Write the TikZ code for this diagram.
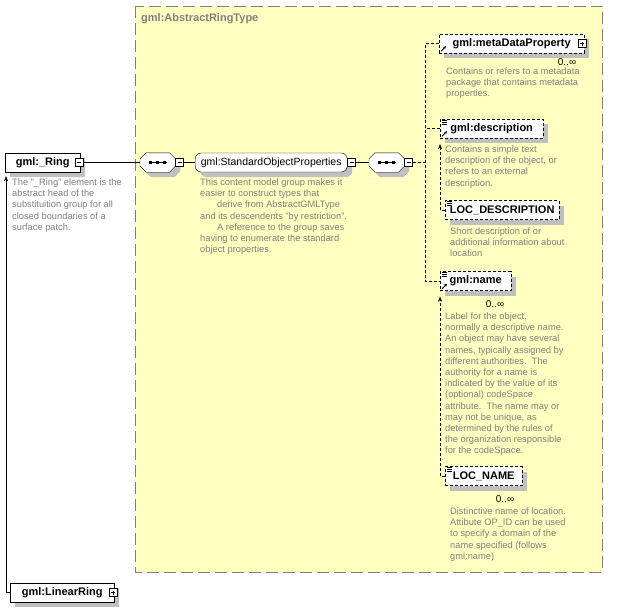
\documentclass[tikz,border=0pt]{standalone}
\usepackage{fontspec}
\setmainfont{Liberation Sans}
\usetikzlibrary{shadows,arrows.meta}
\definecolor{bgyellow}{HTML}{FFFFC0}
\definecolor{docgray}{HTML}{808080}
\definecolor{shadowgray}{HTML}{C0C0C0}
\begin{document}
\begin{tikzpicture}[x=1pt,y=-1pt,>={Stealth[length=5pt,width=4pt]},
    shade/.style={drop shadow={shadow xshift=5pt,shadow yshift=-5pt,fill=shadowgray,opacity=1}},
    dotted line/.style={dash pattern=on 3pt off 2pt},
    elem/.style={draw,fill=white,shade,anchor=west,minimum height=19pt,inner sep=0pt,font=\fontsize{11}{12}\selectfont\bfseries},
    optelem/.style={elem,dotted line},
    seq/.style={anchor=west,minimum width=35pt,minimum height=19pt,inner sep=0pt},
    pmbox/.style={draw,solid,fill=white,minimum size=8pt,inner sep=0pt,
      path picture={\draw ([xshift=2pt]path picture bounding box.west) -- ([xshift=-2pt]path picture bounding box.east);}},
    plusbox/.style={draw,solid,fill=white,minimum size=8pt,inner sep=0pt,
      path picture={\draw ([xshift=2pt]path picture bounding box.west) -- ([xshift=-2pt]path picture bounding box.east);
        \draw ([yshift=2pt]path picture bounding box.south) -- ([yshift=-2pt]path picture bounding box.north);}},
    doc/.style={text=docgray,font=\fontsize{9.3}{11.2}\selectfont,align=left,anchor=north west,inner sep=0pt},
    mult/.style={font=\fontsize{10}{12}\selectfont,inner sep=0pt}]
  \useasboundingbox (0,0) rectangle (620,614);
  \fill[bgyellow] (135,6) rectangle (602,572);
  \draw[docgray,dash pattern=on 12pt off 5pt] (135,6) rectangle (602,572);
  \node[font=\fontsize{11}{12}\selectfont\bfseries,text=docgray,anchor=west,inner sep=0pt] (title) at (141,19) {gml:AbstractRingType};

  \node[elem,minimum width=75pt] (ring) at (5,162.5) {gml:\_Ring};
  \node[pmbox] (ringpm) at ([xshift=-1pt]ring.east) {};
  \node[doc] (ringdoc) at (12,178.5) {The "\_Ring" element is the\\abstract head of the\\substituition group for all\\closed boundaries of a\\surface patch.};

  \node[seq] (seq1) at (140,162.5) {};
  \node[seq] (seq2) at (369,162.5) {};
  \foreach \s in {seq1,seq2} {
    \draw[fill=white,shade] ([xshift=6pt]\s.north west) -- ([xshift=-6pt]\s.north east) -- ([yshift=-6pt]\s.north east)
      -- ([yshift=6pt]\s.south east) -- ([xshift=-6pt]\s.south east) -- ([xshift=6pt]\s.south west)
      -- ([yshift=6pt]\s.south west) -- ([yshift=-6pt]\s.north west) -- cycle;
    \draw[line width=1.2pt] ([xshift=-9pt]\s.center) -- ([xshift=9pt]\s.center);
    \foreach \d in {-7,0,7}
      \fill ([xshift=\d pt]\s.center) +(-1.7pt,-1.7pt) rectangle +(1.7pt,1.7pt);
  }
  \node[pmbox,anchor=west] (seq1pm) at (seq1.east) {};
  \node[draw,fill=white,shade,rounded corners=6pt,anchor=west,minimum width=152pt,minimum height=19pt,inner sep=0pt,
    font=\fontsize{10.5}{12}\selectfont] (sop) at (195,162.5) {gml:StandardObjectProperties};
  \node[pmbox,anchor=west] (soppm) at (sop.east) {};
  \node[doc] (sopdoc) at (200,178.5) {This content model group makes it\\easier to construct types that\\\hspace*{17pt}derive from AbstractGMLType\\and its descendents "by restriction".\\\hspace*{17pt}A reference to the group saves\\having to enumerate the standard\\object properties.};
  \node[pmbox,anchor=west] (seq2pm) at (seq2.east) {};
  \coordinate (choice) at (425,162.5);

  \node[optelem,minimum width=145pt] (meta) at (439,43.5) {gml:metaDataProperty};
  \node[plusbox] (metapm) at ([xshift=-2pt]meta.east) {};
  \node[mult] (metamult) at (567,62) {0..∞};
  \node[doc] (metadoc) at (446,67.5) {Contains or refers to a metadata\\package that contains metadata\\properties.};

  \node[optelem,minimum width=103pt] (descr) at (440,128.5) {gml:description};
  \node[doc] (descrdoc) at (445,145.5) {Contains a simple text\\description of the object, or\\refers to an external\\description.};
  \node[optelem,minimum width=114pt] (locdesc) at (445,210) {LOC\_DESCRIPTION};
  \node[doc] (locdescdoc) at (450,227.5) {Short description of or\\additional information about\\location};

  \node[optelem,minimum width=71pt] (name) at (440,281) {gml:name};
  \node[mult] (namemult) at (495,304) {0..∞};
  \node[doc] (namedoc) at (445,312.5) {Label for the object,\\normally a descriptive name.\\An object may have several\\names, typically assigned by\\different authorities.\ \ The\\authority for a name is\\indicated by the value of its\\(optional) codeSpace\\attribute.\ \ The name may or\\may not be unique, as\\determined by the rules of\\the organization responsible\\for the codeSpace.};
  \node[optelem,minimum width=77pt] (locname) at (445,476) {LOC\_NAME};
  \node[mult] (locnamemult) at (505,499) {0..∞};
  \node[doc] (locnamedoc) at (450,507.5) {Distinctive name of location.\\Attibute OP\_ID can be used\\to specify a domain of the\\name specified (follows\\gml:name)};

  \node[elem,minimum width=104pt] (linear) at (10,592.5) {gml:LinearRing};
  \node[plusbox] (linearpm) at ([xshift=-1pt]linear.east) {};

  \draw (ringpm.east) -- (seq1.west);
  \draw (seq1pm.east) -- (sop.west);
  \draw (soppm.east) -- (seq2.west);
  \draw[dotted line] (seq2pm.east) -- (choice);
  \draw[dotted line] (meta.west) -| (choice) |- (name.west);
  \draw[dotted line] (descr.west) -- (descr.west -| choice);
  \draw[dotted line,->] (locdesc.west) -| ([yshift=-6pt]descr.south west);
  \draw[dotted line,->] (locname.west) -| ([yshift=-6pt]name.south west);
  \draw[->] (linear.west) -| ([xshift=1pt,yshift=-4pt]ring.south west);

  \foreach \n in {meta,descr,name}
    \draw[-{Stealth[length=3pt,width=3pt]},line width=0.8pt] ([xshift=2pt,yshift=2pt]\n.south west) -- ([xshift=7pt,yshift=7pt]\n.south west);
  \foreach \n in {descr,locdesc,name,locname}
    \foreach \k in {1,3,5}
      \draw ([xshift=2pt,yshift=-\k pt]\n.north west) -- ([xshift=7pt,yshift=-\k pt]\n.north west);
\end{tikzpicture}
\end{document}
